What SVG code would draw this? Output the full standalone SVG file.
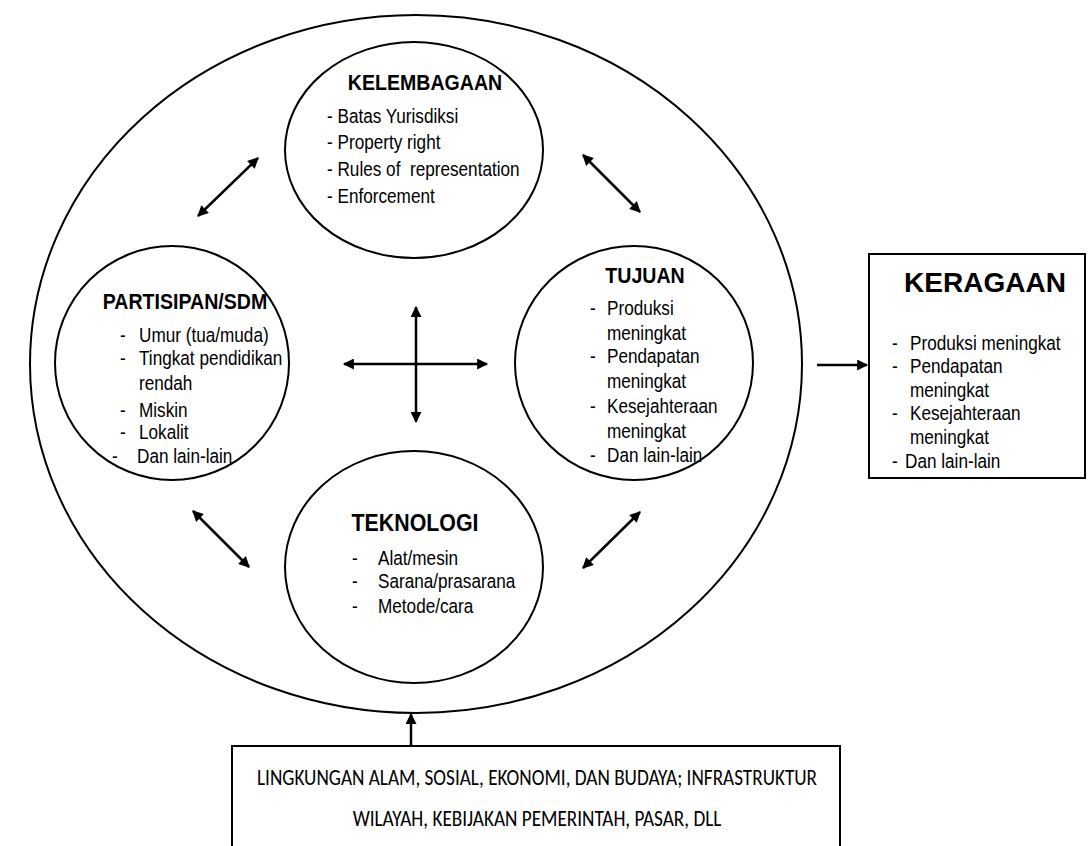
<svg xmlns="http://www.w3.org/2000/svg" width="1090" height="846" viewBox="0 0 1090 846">
<style>
.shape{fill:#fff;stroke:#000;stroke-width:2}
.conn{stroke:#000;stroke-width:2.5;fill:none}
.t{font-family:"Liberation Sans",Arial,sans-serif;font-size:19.5px;fill:#000}
.h{font-family:"Liberation Sans",Arial,sans-serif;font-size:22px;font-weight:bold;fill:#000}
.big{font-family:"Liberation Sans",Arial,sans-serif;font-size:28px;font-weight:bold;fill:#000}
.bt{font-family:Carlito,Calibri,"Liberation Sans",sans-serif;font-size:23px;fill:#000}
</style>
<defs>
<marker id="ah" viewBox="0 0 10 10" refX="9" refY="5" markerWidth="4.8" markerHeight="4.4" orient="auto-start-reverse" markerUnits="strokeWidth">
<path d="M0,0 L10,5 L0,10 z" fill="#000"/>
</marker>
</defs>
<rect width="1090" height="846" fill="#fff"/>
<g id="lingkungan-luar">
<ellipse class="shape" cx="416" cy="364" rx="386" ry="349"/>
</g>
<g id="kelembagaan">
<ellipse class="shape" cx="414" cy="150" rx="129" ry="108"/>
<text class="h" text-anchor="middle" transform="translate(425,90) scale(0.89,1)">KELEMBAGAAN</text>
<text class="t" transform="translate(327,123) scale(0.88,1)">- Batas Yurisdiksi</text>
<text class="t" transform="translate(327,149) scale(0.88,1)">- Property right</text>
<text class="t" transform="translate(327,176) scale(0.88,1)" xml:space="preserve">- Rules of  representation</text>
<text class="t" transform="translate(327,203) scale(0.88,1)">- Enforcement</text>
</g>
<g id="partisipan">
<ellipse class="shape" cx="172" cy="363" rx="117" ry="117"/>
<text class="h" text-anchor="middle" transform="translate(185,309) scale(0.89,1)">PARTISIPAN/SDM</text>
<text class="t" transform="translate(120,342) scale(0.88,1)">-</text>
<text class="t" transform="translate(139,342) scale(0.88,1)">Umur (tua/muda)</text>
<text class="t" transform="translate(120,365) scale(0.88,1)">-</text>
<text class="t" transform="translate(139,365) scale(0.88,1)">Tingkat pendidikan</text>
<text class="t" transform="translate(139,390) scale(0.88,1)">rendah</text>
<text class="t" transform="translate(120,417) scale(0.88,1)">-</text>
<text class="t" transform="translate(139,417) scale(0.88,1)">Miskin</text>
<text class="t" transform="translate(120,439) scale(0.88,1)">-</text>
<text class="t" transform="translate(139,439) scale(0.88,1)">Lokalit</text>
<text class="t" transform="translate(112,463) scale(0.88,1)">-</text>
<text class="t" transform="translate(137,463) scale(0.88,1)">Dan lain-lain</text>
</g>
<g id="tujuan">
<ellipse class="shape" cx="634" cy="363" rx="119" ry="117"/>
<text class="h" text-anchor="middle" transform="translate(645,283) scale(0.89,1)">TUJUAN</text>
<text class="t" transform="translate(590,315) scale(0.88,1)">-</text>
<text class="t" transform="translate(607,315) scale(0.88,1)">Produksi</text>
<text class="t" transform="translate(607,340) scale(0.88,1)">meningkat</text>
<text class="t" transform="translate(590,363) scale(0.88,1)">-</text>
<text class="t" transform="translate(607,363) scale(0.88,1)">Pendapatan</text>
<text class="t" transform="translate(607,388) scale(0.88,1)">meningkat</text>
<text class="t" transform="translate(590,413) scale(0.88,1)">-</text>
<text class="t" transform="translate(607,413) scale(0.88,1)">Kesejahteraan</text>
<text class="t" transform="translate(607,438) scale(0.88,1)">meningkat</text>
<text class="t" transform="translate(590,462) scale(0.88,1)">-</text>
<text class="t" transform="translate(607,462) scale(0.88,1)">Dan lain-lain</text>
</g>
<g id="teknologi">
<ellipse class="shape" cx="414" cy="567" rx="129" ry="116"/>
<text class="h" text-anchor="middle" style="font-size:24px" transform="translate(415,531) scale(0.89,1)">TEKNOLOGI</text>
<text class="t" transform="translate(352,565) scale(0.88,1)">-</text>
<text class="t" transform="translate(378,565) scale(0.88,1)">Alat/mesin</text>
<text class="t" transform="translate(352,588) scale(0.88,1)">-</text>
<text class="t" transform="translate(378,588) scale(0.88,1)">Sarana/prasarana</text>
<text class="t" transform="translate(352,613) scale(0.88,1)">-</text>
<text class="t" transform="translate(378,613) scale(0.88,1)">Metode/cara</text>
</g>
<g id="keragaan">
<rect class="shape" x="869" y="254" width="216" height="224"/>
<text class="big" text-anchor="middle" x="985" y="292">KERAGAAN</text>
<text class="t" transform="translate(892,350) scale(0.88,1)">-</text>
<text class="t" transform="translate(910,350) scale(0.88,1)">Produksi meningkat</text>
<text class="t" transform="translate(892,373) scale(0.88,1)">-</text>
<text class="t" transform="translate(910,373) scale(0.88,1)">Pendapatan</text>
<text class="t" transform="translate(910,397) scale(0.88,1)">meningkat</text>
<text class="t" transform="translate(892,420) scale(0.88,1)">-</text>
<text class="t" transform="translate(910,420) scale(0.88,1)">Kesejahteraan</text>
<text class="t" transform="translate(910,444) scale(0.88,1)">meningkat</text>
<text class="t" transform="translate(892,468) scale(0.88,1)">-</text>
<text class="t" transform="translate(905,468) scale(0.88,1)">Dan lain-lain</text>
</g>
<g id="lingkungan">
<rect class="shape" x="232" y="746" width="608" height="120"/>
<text class="bt" text-anchor="middle" transform="translate(537,785) scale(0.835,1)">LINGKUNGAN ALAM, SOSIAL, EKONOMI, DAN BUDAYA; INFRASTRUKTUR</text>
<text class="bt" text-anchor="middle" transform="translate(537,826) scale(0.835,1)">WILAYAH, KEBIJAKAN PEMERINTAH, PASAR, DLL</text>
</g>
<g id="connectors">
<line class="conn" x1="344" y1="364" x2="487" y2="364" marker-start="url(#ah)" marker-end="url(#ah)"/>
<line class="conn" x1="416" y1="307" x2="416" y2="422" marker-start="url(#ah)" marker-end="url(#ah)"/>
<line class="conn" x1="198" y1="216" x2="258" y2="158" marker-start="url(#ah)" marker-end="url(#ah)"/>
<line class="conn" x1="583" y1="155" x2="640" y2="212" marker-start="url(#ah)" marker-end="url(#ah)"/>
<line class="conn" x1="193" y1="511" x2="249" y2="567" marker-start="url(#ah)" marker-end="url(#ah)"/>
<line class="conn" x1="583" y1="568" x2="640" y2="512" marker-start="url(#ah)" marker-end="url(#ah)"/>
<line class="conn" x1="817" y1="365" x2="867" y2="365" marker-end="url(#ah)"/>
<line class="conn" x1="411" y1="746" x2="411" y2="714" marker-end="url(#ah)"/>
</g>
</svg>
